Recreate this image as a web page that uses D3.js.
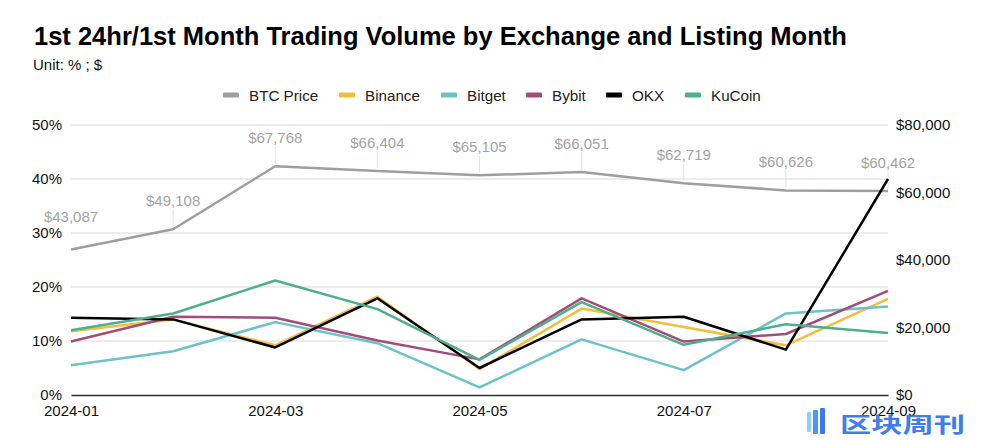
<!DOCTYPE html>
<html><head><meta charset="utf-8">
<script src="https://cdn.jsdelivr.net/npm/d3@7"></script>
<style>
body{margin:0;background:#fff;}
svg{display:block;font-family:"Liberation Sans",Arial,Helvetica,sans-serif;}
</style></head>
<body><svg id="chart" width="990" height="440"></svg>
<script>
const months = ["2024-01","2024-02","2024-03","2024-04","2024-05","2024-06","2024-07","2024-08","2024-09"];
const xTickLabels = ["2024-01","2024-03","2024-05","2024-07","2024-09"];
const pctTicks = [0,10,20,30,40,50];
const priceTicks = [0,20000,40000,60000,80000];
const btcPrice = [43087,49108,67768,66404,65105,66051,62719,60626,60462];
const binance = [11.8,14.0,9.2,18.2,4.8,16.0,12.6,9.2,17.8];
const bitget  = [5.5,8.1,13.5,9.6,1.4,10.3,4.6,15.1,16.4];
const bybit   = [9.9,14.5,14.3,10.1,6.6,17.9,9.9,11.3,19.3];
const okx     = [14.3,14.0,8.8,17.9,5.0,14.0,14.5,8.4,40.0];
const kucoin  = [12.0,15.1,21.2,15.9,6.5,17.2,9.3,13.1,11.5];

const seriesNames = ["Binance","Bitget","Bybit","OKX","KuCoin"];
const seriesValues = [binance,bitget,bybit,okx,kucoin];
const colors = {"BTC Price":"#9e9e9e","Binance":"#f2bf3c","Bitget":"#6cc2c8","Bybit":"#9e4f78","OKX":"#000000","KuCoin":"#4fae8e"};

const svg = d3.select("#chart");
const L=71, R=888, T=125, B=395;
const x = d3.scalePoint().domain(months).range([L,R]);
const y = d3.scaleLinear().domain([0,50]).range([B,T]);
const y2 = d3.scaleLinear().domain([0,80000]).range([B,T]);

// title
svg.append("text").attr("x",34).attr("y",45).attr("font-size",25.5).attr("font-weight","bold").attr("fill","#000")
  .text("1st 24hr/1st Month Trading Volume by Exchange and Listing Month");
svg.append("text").attr("x",33).attr("y",70).attr("font-size",15).attr("fill","#111").text("Unit: % ; $");

// legend
const legendItems = ["BTC Price",...seriesNames];
const legendX = [223,339,441,526,606,685];
legendItems.forEach((n,i)=>{
  const g = svg.append("g").attr("transform",`translate(${legendX[i]},95)`);
  g.append("rect").attr("x",0).attr("y",-2.5).attr("width",16).attr("height",5).attr("rx",1).attr("fill",colors[n]);
  g.append("text").attr("x",26).attr("y",5.5).attr("font-size",15.2).attr("fill","#222").text(n);
});

// gridlines
svg.append("g").selectAll("line").data(pctTicks.filter(d=>d>0)).join("line")
  .attr("x1",L).attr("x2",R).attr("y1",d=>y(d)).attr("y2",d=>y(d)).attr("stroke","#d9d9d9").attr("stroke-width",1.2);

// left axis
const la = svg.append("g").attr("transform",`translate(${L},0)`)
  .call(d3.axisLeft(y).tickValues(pctTicks).tickFormat(d=>d+"%").tickSize(0).tickPadding(9));
la.select(".domain").remove();
la.selectAll("text").attr("font-size",15).attr("fill","#111").attr("font-family","Liberation Sans,Arial,sans-serif");

// right axis
const ra = svg.append("g").attr("transform",`translate(${R},0)`)
  .call(d3.axisRight(y2).tickValues(priceTicks).tickFormat(d=>"$"+d3.format(",")(d)).tickSize(0).tickPadding(8));
ra.select(".domain").remove();
ra.selectAll("text").attr("font-size",15).attr("fill","#111").attr("font-family","Liberation Sans,Arial,sans-serif");

// bottom axis
const ba = svg.append("g").attr("transform",`translate(0,${B})`)
  .call(d3.axisBottom(x).tickValues(xTickLabels).tickSize(0).tickPadding(10));
ba.select(".domain").attr("stroke","#333").attr("stroke-width",1.3);
ba.selectAll("text").attr("font-size",15).attr("fill","#111").attr("font-family","Liberation Sans,Arial,sans-serif");

// BTC line
const lineP = d3.line().x((d,i)=>x(months[i])).y(d=>y2(d));
svg.append("path").datum(btcPrice).attr("d",lineP).attr("fill","none").attr("stroke",colors["BTC Price"]).attr("stroke-width",2.5).attr("stroke-linejoin","round");

// BTC labels (first one lifted to clear the left tick label)
const lab = svg.append("g");
btcPrice.forEach((v,i)=>{
  const px = x(months[i]), py = y2(v);
  const lift = i===0 ? 5 : 0;
  if(i>0) lab.append("line").attr("x1",px).attr("x2",px).attr("y1",py-3).attr("y2",py-20).attr("stroke","#e3e3e3").attr("stroke-width",1);
  lab.append("text").attr("x",px).attr("y",py-23-lift).attr("text-anchor","middle").attr("font-size",15).attr("fill","#a3a3a3")
    .text("$"+d3.format(",")(v));
});

// exchange lines
const lineV = d3.line().x((d,i)=>x(months[i])).y(d=>y(d));
seriesNames.forEach((n,k)=>{
  svg.append("path").datum(seriesValues[k]).attr("d",lineV).attr("fill","none").attr("stroke",colors[n])
    .attr("stroke-width",2.5).attr("stroke-linejoin","round");
});

// watermark
const wm = svg.append("g").attr("opacity",0.92);
[[807,412,4,20,"#7fd0f0"],[813,410,5,24,"#3d8ff0"],[820,408,5,26,"#2a6fe6"]].forEach(r=>{
  wm.append("rect").attr("x",r[0]).attr("y",r[1]).attr("width",r[2]).attr("height",r[3]).attr("rx",1).attr("fill",r[4]);
});
wm.append("text").attr("x",840).attr("y",432).attr("font-size",21).attr("font-weight","bold")
  .attr("textLength",125).attr("lengthAdjust","spacingAndGlyphs")
  .attr("font-family","Noto Sans CJK SC").attr("fill","#2f74e6").text("区块周刊");
</script></body></html>
